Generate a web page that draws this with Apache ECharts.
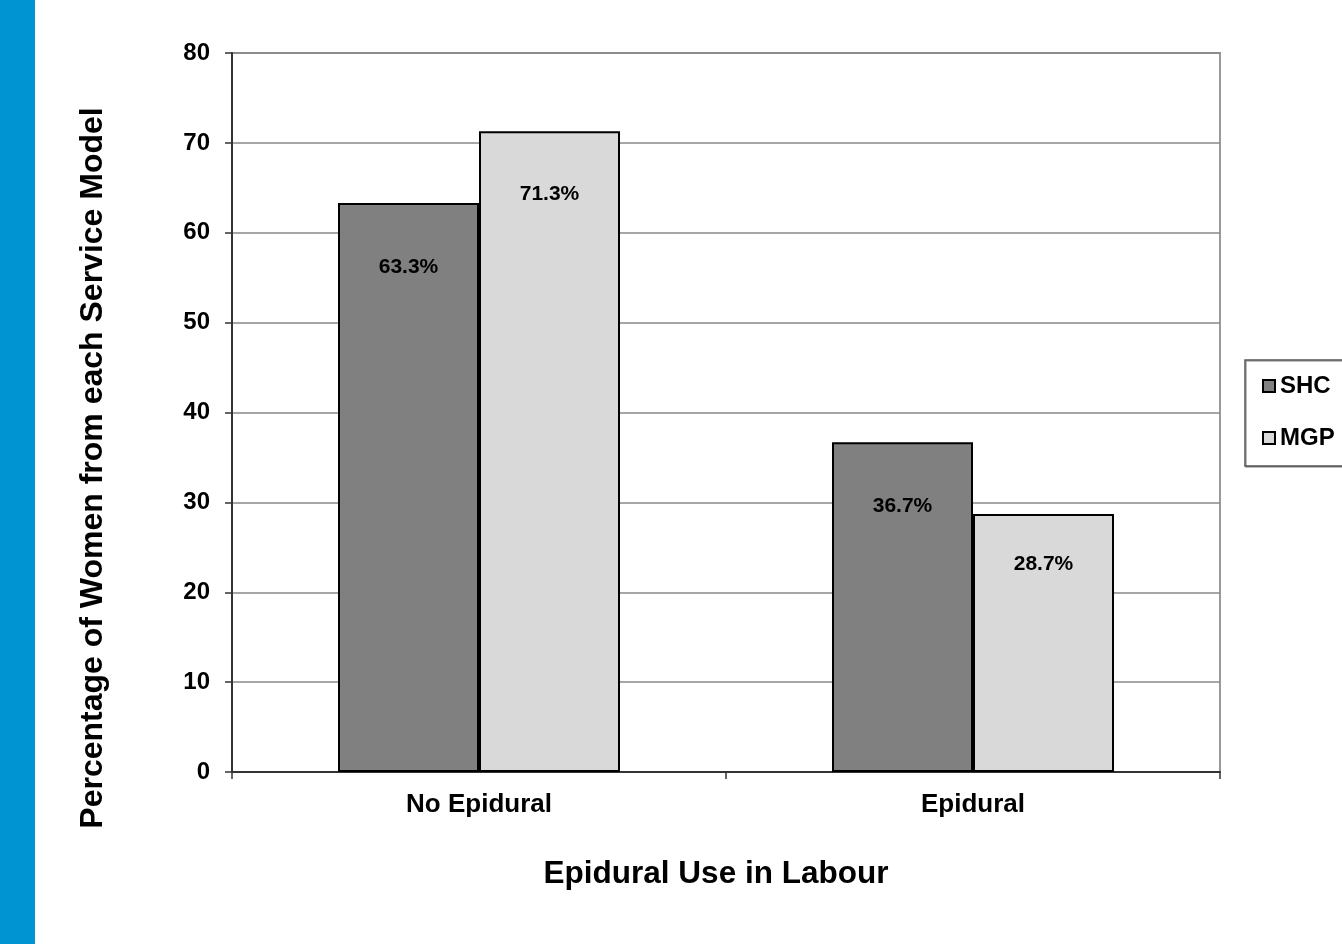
<!DOCTYPE html>
<html>
<head>
<meta charset="utf-8">
<script src="https://cdn.jsdelivr.net/npm/echarts@6/dist/echarts.min.js"></script>
<style>
  html, body { margin: 0; padding: 0; background: #fff; }
  #chart { width: 1342px; height: 944px; }
</style>
</head>
<body>
<div id="chart"></div>
<script>
// Epidural use in labour by service model (percent of women)
const categories = ['No Epidural', 'Epidural'];
const shcValues = [63.3, 36.7];
const mgpValues = [71.3, 28.7];
const seriesNames = ['SHC', 'MGP'];
const yTitle = 'Percentage of Women from each Service Model';
const xTitle = 'Epidural Use in Labour';

const FONT = '"Liberation Sans", Arial, sans-serif';

const chart = echarts.init(document.getElementById('chart'), null, { renderer: 'canvas' });

function makeLabel(distance) {
  return {
    show: true,
    position: 'insideTop',
    distance: distance,
    formatter: p => p.value.toFixed(1) + '%',
    fontFamily: FONT,
    fontWeight: 'bold',
    fontSize: 21,
    color: '#000'
  };
}

// the short MGP bar in the second group carries its label a little higher
const shcData = shcValues.map(v => ({ value: v, label: makeLabel(54) }));
const mgpData = mgpValues.map((v, i) => ({ value: v, label: makeLabel(i === 1 ? 40 : 53) }));

chart.setOption({
  animation: false,
  backgroundColor: '#fff',
  grid: { left: 232, top: 53, right: 122, bottom: 172, show: true, borderColor: '#999', borderWidth: 2, backgroundColor: 'transparent' },
  graphic: [
    { type: 'rect', left: 0, top: 0, shape: { width: 35, height: 944 }, style: { fill: '#0094D3' }, z: 10 },
    {
      type: 'text', x: 93, y: 468, rotation: Math.PI / 2,
      style: { text: yTitle, fontFamily: FONT, fontWeight: 'bold', fontSize: 32, fill: '#000', align: 'center', verticalAlign: 'middle' }
    },
    {
      type: 'text', x: 716, y: 874,
      style: { text: xTitle, fontFamily: FONT, fontWeight: 'bold', fontSize: 31.5, fill: '#000', align: 'center', verticalAlign: 'middle' }
    }
  ],
  legend: {
    orient: 'vertical',
    left: 1245, top: 360,
    padding: [14, 40, 16, 17],
    itemGap: 28,
    itemWidth: 12, itemHeight: 12,
    icon: 'rect',
    borderColor: '#555', borderWidth: 1.5,
    shadowColor: 'rgba(0,0,0,0.35)', shadowOffsetX: 1, shadowOffsetY: 1,
    backgroundColor: '#fff',
    textStyle: { fontFamily: FONT, fontWeight: 'bold', fontSize: 24, color: '#000' },
    data: seriesNames
  },
  xAxis: {
    type: 'category',
    data: categories,
    axisLine: { lineStyle: { color: '#333', width: 2 } },
    axisTick: { show: true, alignWithLabel: false, length: 7, lineStyle: { color: '#333', width: 1.5 } },
    axisLabel: { fontFamily: FONT, fontWeight: 'bold', fontSize: 26, color: '#000', margin: 20 },
    splitLine: { show: false }
  },
  yAxis: {
    type: 'value',
    min: 0, max: 80, interval: 10,
    axisLine: { show: true, lineStyle: { color: '#333', width: 2 } },
    axisTick: { show: true, length: 7, lineStyle: { color: '#333', width: 1.5 } },
    axisLabel: { fontFamily: FONT, fontWeight: 'bold', fontSize: 24, color: '#000', margin: 22 },
    splitLine: { show: true, lineStyle: { color: '#888', width: 1.5 } }
  },
  series: [
    {
      name: seriesNames[0], type: 'bar', data: shcData,
      barWidth: 141, barGap: '0%',
      itemStyle: { color: '#808080', borderColor: '#000', borderWidth: 2 }
    },
    {
      name: seriesNames[1], type: 'bar', data: mgpData,
      barWidth: 141, barGap: '0%',
      itemStyle: { color: '#D9D9D9', borderColor: '#000', borderWidth: 2 }
    }
  ]
});
</script>
</body>
</html>
